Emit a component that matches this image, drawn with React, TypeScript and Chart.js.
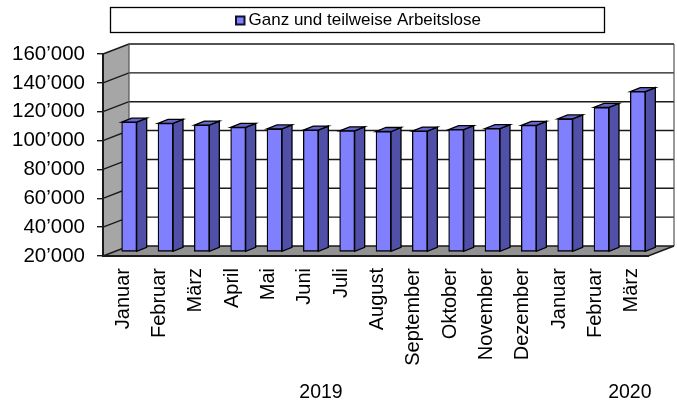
import React, { useEffect, useRef } from "react";
import { Chart, registerables } from "chart.js";

Chart.register(...registerables);

const categories = ["Januar", "Februar", "März", "April", "Mai", "Juni", "Juli", "August", "September", "Oktober", "November", "Dezember", "Januar", "Februar", "März"];
const values = [110000, 109200, 108000, 106400, 105300, 104500, 104000, 103500, 103800, 104800, 105500, 107800, 112200, 120200, 131200];
const seriesName = "Ganz und teilweise Arbeitslose";
const years = [{ label: "2019", at: 5.5 }, { label: "2020", at: 14 }];

const FONT = "'Liberation Sans', Arial, sans-serif";
const WALL_DX = 26;
const WALL_DY = -10;
const BAR_DX = 8;
const BAR_DY = -4;
const SIDE_DX = 10;
const SIDE_DY = -4;
const BAR_COLOR = "#8080ff";

function poly(ctx: CanvasRenderingContext2D, pts: number[][], fill?: string, stroke?: string, lw = 1) {
  ctx.beginPath();
  pts.forEach((p, i) => (i ? ctx.lineTo(p[0], p[1]) : ctx.moveTo(p[0], p[1])));
  ctx.closePath();
  if (fill) {
    ctx.fillStyle = fill;
    ctx.fill();
  }
  if (stroke) {
    ctx.strokeStyle = stroke;
    ctx.lineWidth = lw;
    ctx.stroke();
  }
}

const chart3d = {
  id: "chart3d",
  afterLayout(chart: any) {
    const lg = chart.legend;
    lg.left = 110;
    lg.right = 611;
    lg.top = 11.5;
  },
  beforeDraw(chart: any) {
    const { ctx, chartArea: a, scales } = chart;
    const y = scales.y;
    ctx.save();
    poly(ctx, [[a.left, a.top], [a.left + WALL_DX, a.top + WALL_DY], [a.left + WALL_DX, a.bottom + WALL_DY], [a.left, a.bottom]], "#a6a6a6");
    poly(ctx, [[a.left, a.bottom], [a.left + WALL_DX, a.bottom + WALL_DY], [a.right + WALL_DX, a.bottom + WALL_DY], [a.right, a.bottom]], "#929292");
    ctx.strokeStyle = "#1a1a1a";
    ctx.lineWidth = 1.4;
    y.ticks.forEach((t: any) => {
      const py = y.getPixelForValue(t.value);
      ctx.beginPath();
      ctx.moveTo(a.left, py);
      ctx.lineTo(a.left + WALL_DX, py + WALL_DY);
      ctx.lineTo(a.right + WALL_DX, py + WALL_DY);
      ctx.stroke();
    });
    ctx.strokeStyle = "#555555";
    ctx.lineWidth = 1.2;
    ctx.beginPath();
    ctx.moveTo(a.left + WALL_DX, a.top + WALL_DY);
    ctx.lineTo(a.left + WALL_DX, a.bottom + WALL_DY);
    ctx.moveTo(a.right + WALL_DX, a.top + WALL_DY);
    ctx.lineTo(a.right + WALL_DX, a.bottom + WALL_DY);
    ctx.stroke();
    ctx.strokeStyle = "#1a1a1a";
    ctx.lineWidth = 1.4;
    ctx.beginPath();
    ctx.moveTo(a.right, a.bottom);
    ctx.lineTo(a.right + WALL_DX, a.bottom + WALL_DY);
    ctx.stroke();
    ctx.restore();
  },
  beforeDatasetDraw(chart: any, args: any) {
    const ctx = chart.ctx;
    const meta = args.meta;
    ctx.save();
    ctx.translate(BAR_DX, BAR_DY);
    meta.data.forEach((bar: any) => {
      const l = bar.x - bar.width / 2;
      const r = bar.x + bar.width / 2;
      poly(ctx, [[r, bar.y], [r + SIDE_DX, bar.y + SIDE_DY], [r + SIDE_DX, bar.base + SIDE_DY], [r, bar.base]], "#5050a8", "#000000", 1.3);
      poly(ctx, [[l, bar.y], [l + SIDE_DX, bar.y + SIDE_DY], [r + SIDE_DX, bar.y + SIDE_DY], [r, bar.y]], "#6666cc", "#000000", 1.3);
    });
  },
  afterDatasetDraw(chart: any) {
    chart.ctx.restore();
  },
  afterDraw(chart: any) {
    const { ctx, scales } = chart;
    ctx.save();
    ctx.strokeStyle = "#000000";
    ctx.lineWidth = 1.3;
    ctx.strokeRect(110.5, 7.5, 494, 25);
    ctx.fillStyle = BAR_COLOR;
    ctx.strokeStyle = "#10102a";
    ctx.lineWidth = 2;
    ctx.fillRect(236, 16.5, 8.5, 8);
    ctx.strokeRect(236, 16.5, 8.5, 8);
    ctx.fillStyle = "#000000";
    ctx.font = `19.5px ${FONT}`;
    ctx.textAlign = "center";
    ctx.textBaseline = "middle";
    years.forEach((yr) => {
      ctx.fillText(yr.label, scales.x.getPixelForValue(yr.at), 392.5);
    });
    ctx.restore();
  },
};

export default function App() {
  const ref = useRef<HTMLCanvasElement>(null);
  useEffect(() => {
    document.body.style.margin = "0";
    const chart = new Chart(ref.current!, {
      type: "bar",
      data: {
        labels: categories,
        datasets: [
          {
            label: seriesName,
            data: values,
            base: 20000,
            backgroundColor: BAR_COLOR,
            borderColor: "#000000",
            borderWidth: 1.3,
            borderSkipped: false,
            barThickness: 15,
            clip: false,
          } as any,
        ],
      },
      options: {
        responsive: false,
        animation: false,
        events: [],
        layout: { padding: { left: 0, right: 29, top: 27, bottom: 0 } },
        plugins: {
          tooltip: { enabled: false },
          legend: {
            display: true,
            position: "top",
            align: "center",
            labels: {
              boxWidth: 0,
              boxHeight: 0,
              padding: 0,
              color: "#000000",
              font: { family: FONT, size: 17 },
              generateLabels: () => [{ text: seriesName, fillStyle: BAR_COLOR, strokeStyle: "#000000", lineWidth: 0, datasetIndex: 0 } as any],
            },
          },
        },
        scales: {
          x: {
            type: "category",
            offset: true,
            border: { color: "#1a1a1a", width: 2 },
            grid: { display: false, drawOnChartArea: false, drawTicks: false },
            afterFit: (s: any) => { s.height = 405 - 256; },
            ticks: {
              autoSkip: false,
              minRotation: 90,
              maxRotation: 90,
              padding: 12,
              labelOffset: 2,
              color: "#000000",
              font: { family: FONT, size: 20 },
            },
          },
          y: {
            min: 20000,
            max: 160000,
            afterFit: (s: any) => { s.width = 103; },
            border: { color: "#1a1a1a", width: 2 },
            grid: { drawOnChartArea: false, drawTicks: true, tickLength: 6, color: "#1a1a1a", lineWidth: 1.4 },
            ticks: {
              stepSize: 20000,
              padding: 12,
              color: "#000000",
              font: { family: FONT, size: 20.5 },
              callback: (v: any) => String(v).replace(/(\d{3})$/, "’$1"),
            },
          },
        },
      },
      plugins: [chart3d],
    } as any);
    return () => chart.destroy();
  }, []);
  return <canvas ref={ref} width={677} height={405} style={{ display: "block" }} />;
}
